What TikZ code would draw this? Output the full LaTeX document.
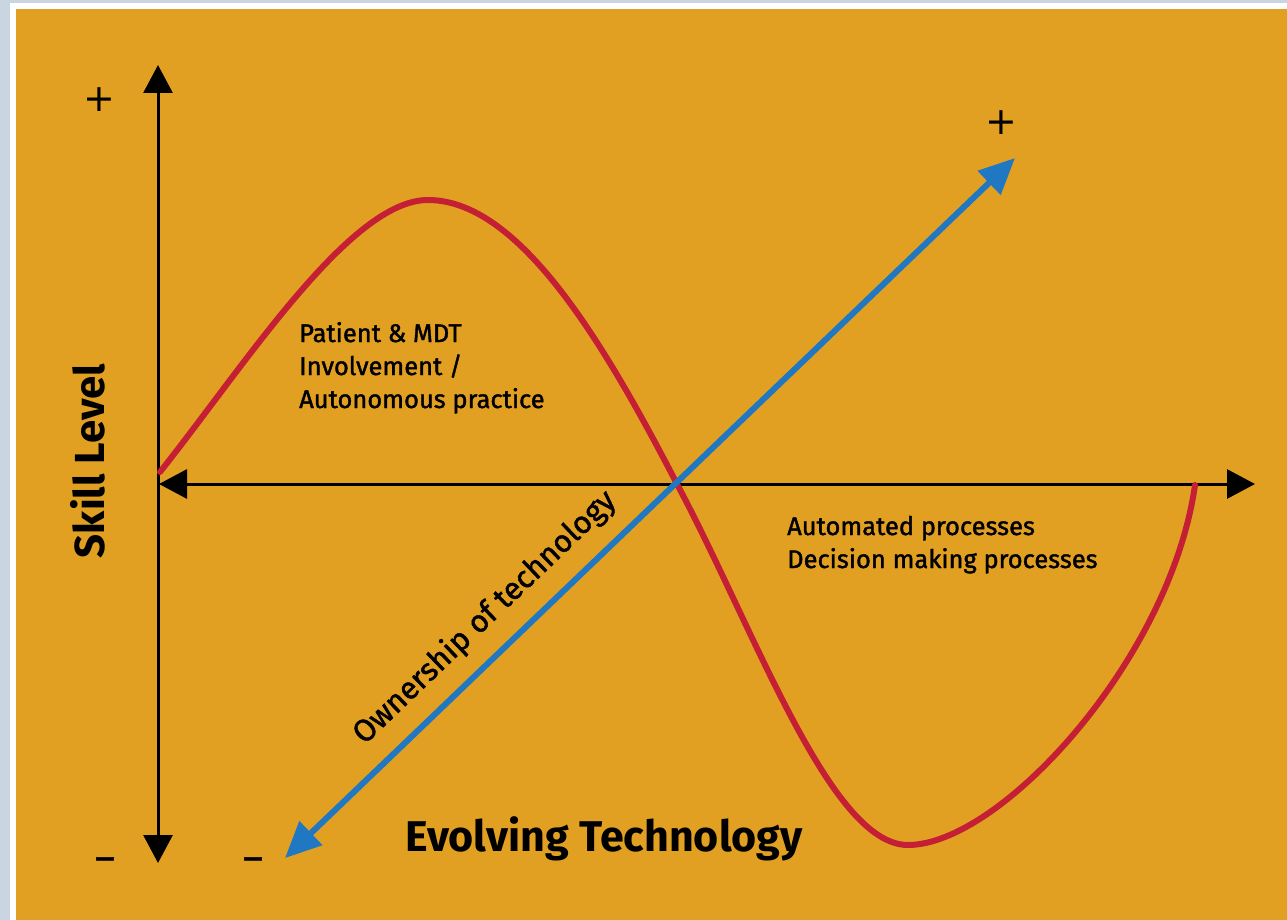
\documentclass[tikz,border=0pt]{standalone}
\usepackage{fontspec}
\setmainfont{Fira Sans}
\newfontfamily\medfont{Fira Sans}[FakeBold=1.5]
\newfontfamily\signfont{DejaVu Sans}
\usetikzlibrary{arrows.meta}
\definecolor{bgorange}{HTML}{E2A023}
\definecolor{photo}{HTML}{C9D6E2}
\definecolor{curvered}{HTML}{C41F35}
\definecolor{axisblue}{HTML}{1F78C1}
\tikzset{
  axis/.style={line width=3pt, black},
  blueaxis/.style={line width=6pt, axisblue},
  redcurve/.style={line width=6pt, curvered, line cap=round},
  lbl/.style={font=\medfont\fontsize{25.5}{33}\selectfont, align=left, inner sep=0pt, anchor=base west},
  signplus/.style={font=\signfont\fontsize{38}{38}\selectfont, inner sep=0pt},
  signminus/.style={font=\medfont\fontsize{38}{38}\selectfont, inner sep=0pt},
  title/.style={inner sep=0pt},
}
\begin{document}
\begin{tikzpicture}[x=1pt,y=-1pt]
\useasboundingbox (0,0) rectangle (1287,920);
\fill[photo] (0,0) rectangle (1287,920);
\fill[white] (10,3) rectangle (1287,920);
\fill[bgorange] (16,9) rectangle (1287,920);
% axes coordinates
\coordinate (vtop) at (158,65);
\coordinate (vbot) at (158,863);
\coordinate (hleft) at (159,484);
\coordinate (hright) at (1255,484);
\coordinate (btop) at (1015,158);
\coordinate (bbot) at (285,858);
% axes
\draw[axis, {Triangle[length=28pt,width=29pt]}-{Triangle[length=28pt,width=29pt]}] (vbot) -- (vtop);
\draw[axis, {Triangle[length=28pt,width=29pt]}-{Triangle[length=28pt,width=29pt]}] (hleft) -- (hright);
% red curve
\draw[redcurve] (160,472) .. controls (245,365) and (350,200) .. (428,200)
  .. controls (520,200) and (605,345) .. (677,484)
  .. controls (755,630) and (830,845) .. (908,845)
  .. controls (1000,845) and (1170,660) .. (1195,485);
% blue axis
\draw[blueaxis, {Triangle[length=36pt,width=32pt]}-{Triangle[length=36pt,width=32pt]}] (bbot) -- (btop);
% signs
\node[signplus] (plusv) at (99,100) {+};
\node[signplus] (plusb) at (1001,123) {+};
\node[signminus] (minusv) at (105,864) {–};
\node[signminus] (minusb) at (253,864) {–};
% labels
\node[lbl] (patient) at (299,408) {Patient \& MDT\\Involvement /\\Autonomous practice};
\node[lbl] (auto) at (787,568) {Automated processes\\Decision making processes};
\node[font=\medfont\fontsize{31}{31}\selectfont, rotate=43.8, inner sep=0pt, anchor=base] (own) at (491,624) {Ownership of technology};
\node[title, font=\bfseries\fontsize{42}{42}\selectfont, rotate=90, anchor=base] (skill) at (104,461) {Skill Level};
\node[title, font=\bfseries\fontsize{43}{43}\selectfont, anchor=base] (evolve) at (604,851) {Evolving Technology};
\end{tikzpicture}
\end{document}
